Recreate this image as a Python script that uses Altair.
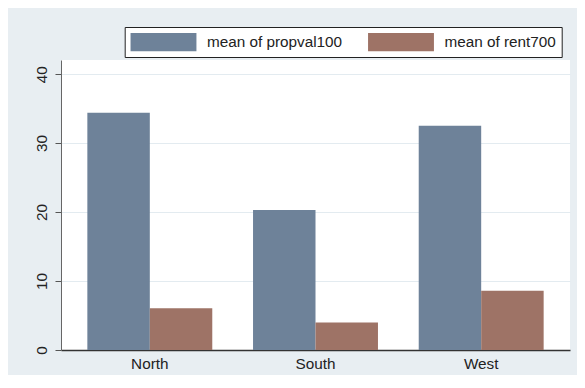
import altair as alt
import pandas as pd

regions = ["North", "South", "West"]
propval100 = [34.4, 20.3, 32.5]
rent700 = [6.05, 4.0, 8.6]
series_names = ["mean of propval100", "mean of rent700"]
series_colors = ["#6e8299", "#9e7366"]
y_ticks = [0, 10, 20, 30, 40]

rows = []
for i, r in enumerate(regions):
    rows.append({"region": r, "series": series_names[0], "value": propval100[i]})
    rows.append({"region": r, "series": series_names[1], "value": rent700[i]})
df = pd.DataFrame(rows)

FONT = "Liberation Sans"
FS = 15.3

chart = alt.Chart(df).mark_bar().encode(
    x=alt.X("region:N", sort=regions, title=None,
            scale=alt.Scale(paddingInner=0.246, paddingOuter=0.159),
            axis=alt.Axis(labelAngle=0, ticks=False, tickSize=0, labelPadding=18,
                          labelBaseline="alphabetic", labelFontSize=FS, labelFont=FONT,
                          labelColor="#222", domainColor="#333", domainWidth=1.3,
                          grid=False)),
    xOffset=alt.XOffset("series:N", sort=series_names, scale=alt.Scale(paddingInner=0, paddingOuter=0)),
    y=alt.Y("value:Q", title=None,
            scale=alt.Scale(domain=[0, 42.05], nice=False, zero=True),
            axis=alt.Axis(values=y_ticks, labelAngle=270, labelAlign="center",
                          labelBaseline="alphabetic", labelPadding=8.3, tickSize=6,
                          tickColor="#555", domainColor="#666", domainWidth=1,
                          labelFontSize=FS, labelFont=FONT, labelColor="#222",
                          grid=True, gridColor="#e3ebf0", gridWidth=1, labelFlush=False)),
    color=alt.Color("series:N", sort=series_names,
                    scale=alt.Scale(domain=series_names, range=series_colors),
                    legend=alt.Legend(title=None, orient="none", legendX=63.7, legendY=-33,
                                      direction="horizontal",
                                      symbolType="M-1,-1H6.2V1H-1Z", symbolSize=335,
                                      symbolStrokeWidth=0, labelOffset=57.7,
                                      columnPadding=25.5, padding=5.5,
                                      strokeColor="#222", fillColor="white",
                                      labelFontSize=FS, labelFont=FONT, labelColor="#222",
                                      symbolOpacity=1)),
).properties(
    width=509, height=290,
    autosize=alt.AutoSizeParams(type="none"),
    padding={"left": 53, "top": 52, "right": 7, "bottom": 25},
    background="#e8eef2",
).configure_view(
    fill="white", stroke=None,
)

chart.save("out.html", embed_options={"renderer": "svg", "actions": False})
